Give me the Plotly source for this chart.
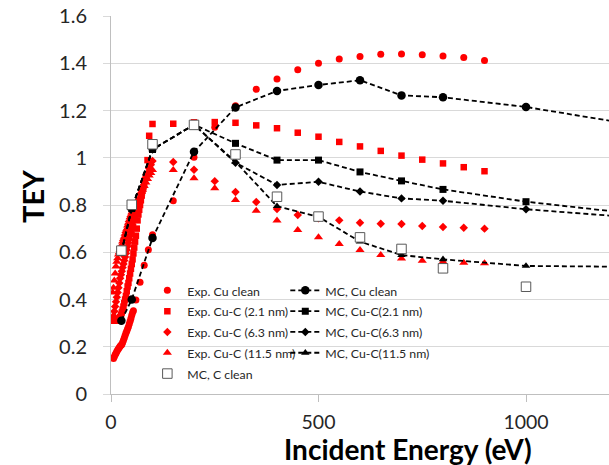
import plotly.graph_objects as go

# ---------------- data ----------------
# Experimental TEY, clean Cu
exp_cu_e = [6, 8, 10, 12, 14, 16, 18, 20, 22, 24, 26, 28, 30, 32, 34, 36, 38, 40,
            42, 44, 46, 48, 50, 52, 54, 60, 70, 80, 90, 100, 150, 200, 250, 300,
            350, 400, 450, 500, 550, 600, 650, 700, 750, 800, 850, 900]
exp_cu_y = [0.150, 0.158, 0.166, 0.173, 0.180, 0.186, 0.192, 0.197, 0.202, 0.206,
            0.210, 0.218, 0.227, 0.237, 0.248, 0.258, 0.267, 0.276, 0.285, 0.296,
            0.308, 0.320, 0.333, 0.345, 0.352, 0.398, 0.473, 0.545, 0.611, 0.674,
            0.818, 1.002, 1.129, 1.220, 1.290, 1.333, 1.373, 1.400, 1.418, 1.429,
            1.438, 1.439, 1.436, 1.431, 1.424, 1.412]

# Experimental TEY, Cu with 2.1 nm carbon
exp_c21_e = [6, 8, 10, 12, 14, 16, 18, 20, 22, 24, 26, 28, 30, 32, 34, 36, 38, 40,
             42, 44, 46, 48, 50, 52, 54, 56, 58, 60, 62, 64, 66, 68, 70, 72, 74, 76,
             78, 80, 82, 84, 88, 92, 100, 150, 200, 250, 300, 350, 400, 450, 500,
             550, 600, 650, 700, 750, 800, 850, 900]
exp_c21_y = [0.310, 0.310, 0.310, 0.310, 0.310, 0.311, 0.312, 0.315, 0.325, 0.335,
             0.345, 0.357, 0.370, 0.385, 0.400, 0.415, 0.435, 0.455, 0.470, 0.490,
             0.510, 0.530, 0.550, 0.570, 0.595, 0.620, 0.645, 0.670, 0.700, 0.735,
             0.760, 0.780, 0.800, 0.820, 0.840, 0.860, 0.875, 0.890, 0.905, 0.920,
             0.990, 1.093, 1.143, 1.144, 1.150, 1.151, 1.148, 1.137, 1.125, 1.106,
             1.089, 1.067, 1.048, 1.029, 1.009, 0.992, 0.976, 0.960, 0.943]

# Experimental TEY, Cu with 6.3 nm carbon
exp_c63_e = [6, 8, 10, 12, 14, 16, 18, 20, 22, 24, 26, 28, 30, 32, 34, 36, 38, 40,
             42, 44, 46, 48, 50, 52, 54, 56, 58, 60, 64, 68, 72, 76, 80, 84, 88, 92,
             96, 100, 150, 200, 250, 300, 350, 400, 450, 500, 550, 600, 650, 700,
             750, 800, 850, 900]
exp_c63_y = [0.330, 0.350, 0.370, 0.390, 0.410, 0.430, 0.450, 0.470, 0.490, 0.505,
             0.520, 0.535, 0.550, 0.565, 0.580, 0.595, 0.610, 0.625, 0.640, 0.655,
             0.670, 0.685, 0.700, 0.715, 0.730, 0.745, 0.760, 0.775, 0.800, 0.825,
             0.850, 0.870, 0.895, 0.915, 0.935, 0.955, 0.970, 0.986, 0.982, 0.949,
             0.901, 0.855, 0.813, 0.783, 0.758, 0.744, 0.735, 0.725, 0.721, 0.720,
             0.711, 0.707, 0.704, 0.700]

# Experimental TEY, Cu with 11.5 nm carbon
exp_c115_e = [4, 6, 8, 10, 12, 14, 16, 18, 20, 22, 24, 26, 28, 30, 32, 34, 36, 38,
              40, 42, 44, 46, 48, 50, 52, 54, 56, 60, 64, 68, 72, 76, 80, 84, 88,
              92, 96, 100, 150, 200, 250, 300, 350, 400, 450, 500, 550, 600, 650,
              700, 750, 800, 850, 900]
exp_c115_y = [0.430, 0.450, 0.480, 0.510, 0.540, 0.560, 0.575, 0.590, 0.600, 0.610,
              0.620, 0.632, 0.645, 0.656, 0.666, 0.678, 0.690, 0.700, 0.713, 0.725,
              0.737, 0.748, 0.758, 0.768, 0.778, 0.785, 0.792, 0.800, 0.815, 0.830,
              0.850, 0.865, 0.880, 0.895, 0.910, 0.925, 0.935, 0.948, 0.948, 0.913,
              0.871, 0.821, 0.776, 0.734, 0.694, 0.663, 0.635, 0.610, 0.588, 0.574,
              0.564, 0.560, 0.556, 0.553]

# Monte Carlo results
mc_e = [25, 50, 100, 200, 300, 400, 500, 600, 700, 800, 1000, 1500]
mc_cu_y = [0.310, 0.400, 0.660, 1.025, 1.213, 1.283, 1.308, 1.328, 1.264, 1.256, 1.215, 1.070]
mc_c21_y = [0.600, 0.785, 1.035, 1.140, 1.061, 0.990, 0.990, 0.940, 0.902, 0.866, 0.814, 0.716]
mc_c63_y = [0.600, 0.785, 1.035, 1.140, 0.979, 0.885, 0.898, 0.857, 0.828, 0.818, 0.782, 0.715]
mc_c115_y = [0.600, 0.785, 1.035, 1.140, 0.983, 0.795, 0.750, 0.645, 0.588, 0.570, 0.542, 0.535]

mc_cc_e = [25, 50, 100, 200, 300, 400, 500, 600, 700, 800, 1000]
mc_cc_y = [0.607, 0.801, 1.057, 1.139, 1.014, 0.835, 0.751, 0.663, 0.614, 0.532, 0.454]

x_ticks = [0, 500, 1000]
y_ticks = [0, 0.2, 0.4, 0.6, 0.8, 1, 1.2, 1.4, 1.6]
y_tick_text = ["0", "0.2", "0.4", "0.6", "0.8", "1", "1.2", "1.4", "1.6"]

# ---------------- styling ----------------
FONT = "Lato"
RED = "#FF0000"
BLACK = "#000000"
DASH = "5px,3px"
LEGEND_ROW = 13.7     # sets legend row pitch
LEGEND_TEXT = 12.3    # rendered legend label size


def label(s):
    return f"<span style='font-size:{LEGEND_TEXT}px'>{s}</span>"


fig = go.Figure()


def exp_trace(x, y, name, symbol, size):
    return go.Scatter(x=x, y=y, name=label(name), mode="markers", legend="legend",
                      marker=dict(symbol=symbol, size=size, color=RED,
                                  line=dict(width=0)))


def mc_trace(x, y, name, symbol, size):
    return go.Scatter(x=x, y=y, name=label(name), mode="lines+markers", legend="legend2",
                      line=dict(color=BLACK, width=1.8, dash=DASH),
                      marker=dict(symbol=symbol, size=size, color=BLACK,
                                  line=dict(width=0)))


fig.add_trace(exp_trace(exp_cu_e, exp_cu_y, "Exp. Cu clean", "circle", 7))
fig.add_trace(exp_trace(exp_c21_e, exp_c21_y, "Exp. Cu-C (2.1 nm)", "square", 6.5))
fig.add_trace(exp_trace(exp_c63_e, exp_c63_y, "Exp. Cu-C (6.3 nm)", "diamond", 6.5))
fig.add_trace(exp_trace(exp_c115_e, exp_c115_y, "Exp. Cu-C (11.5 nm)", "triangle-up", 8))

fig.add_trace(mc_trace(mc_e, mc_cu_y, "MC, Cu clean", "circle", 8.5))
fig.add_trace(mc_trace(mc_e, mc_c21_y, "MC, Cu-C(2.1 nm)", "square", 7))
fig.add_trace(mc_trace(mc_e, mc_c63_y, "MC, Cu-C(6.3 nm)", "diamond", 6.5))
fig.add_trace(mc_trace(mc_e, mc_c115_y, "MC, Cu-C(11.5 nm)", "triangle-up", 7.5))

fig.add_trace(go.Scatter(x=mc_cc_e, y=mc_cc_y, name=label("MC, C clean"), mode="markers",
                         legend="legend",
                         marker=dict(symbol="square", size=9.5, color="white",
                                     line=dict(color="#595959", width=1))))

legend_common = dict(bgcolor="rgba(0,0,0,0)", borderwidth=0, tracegroupgap=0,
                     xanchor="left", yanchor="top", traceorder="normal",
                     font=dict(family=FONT, size=LEGEND_ROW, color="#262626"))

fig.update_layout(
    width=609, height=465,
    margin=dict(l=111, r=0, t=16, b=71),
    paper_bgcolor="white", plot_bgcolor="white",
    font=dict(family=FONT, color="#262626"),
    showlegend=True,
    legend=dict(x=0.073, y=0.315, **legend_common),
    legend2=dict(x=0.350, y=0.315, **legend_common),
    xaxis=dict(range=[0, 1200], tickvals=x_ticks, showgrid=False, zeroline=False,
               showline=True, linecolor="#BFBFBF", linewidth=1,
               ticks="outside", ticklen=7, tickcolor="#BFBFBF",
               ticklabelstandoff=4,
               tickfont=dict(family=FONT, size=19.5, color="#262626")),
    yaxis=dict(range=[0, 1.6], tickvals=y_ticks, ticktext=y_tick_text,
               showgrid=True, gridcolor="#D9D9D9", gridwidth=1, zeroline=False,
               showline=True, linecolor="#BFBFBF", linewidth=1,
               ticks="outside", ticklen=7, tickcolor="#D9D9D9",
               ticklabelstandoff=12,
               tickfont=dict(family=FONT, size=20, color="#262626")),
    annotations=[
        dict(text="<b>Incident Energy (eV)</b>", xref="paper", yref="paper",
             x=(408 - 111) / 498, y=-(449 - 394) / 378, xanchor="center",
             yanchor="middle", showarrow=False,
             font=dict(family=FONT, size=28, color="#000000")),
        dict(text="<b>TEY</b>", xref="paper", yref="paper",
             x=-(111 - 32) / 498, y=(394 - 197) / 378, xanchor="center",
             yanchor="middle", showarrow=False, textangle=-90,
             font=dict(family=FONT, size=29, color="#000000")),
    ],
)

fig.write_html("out.html")
